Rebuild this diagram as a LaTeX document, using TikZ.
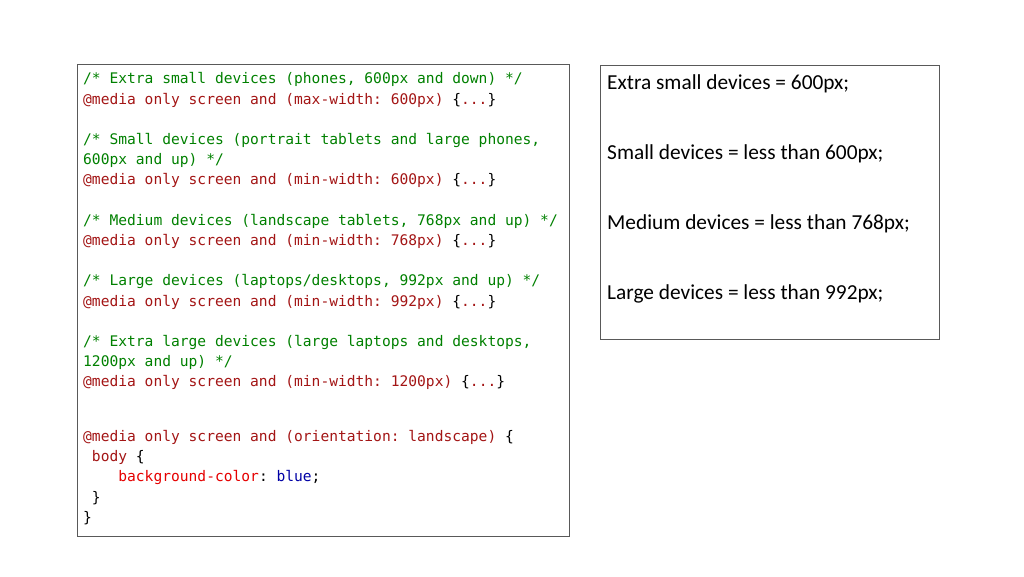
\documentclass[tikz,border=0pt]{standalone}
\usepackage{fontspec}
\setmainfont{Carlito}
\newfontfamily\codefont{DejaVu Sans Mono}
\usetikzlibrary{positioning}

\definecolor{cmtgreen}{RGB}{0,128,0}
\definecolor{ruleclr}{RGB}{163,21,21}
\definecolor{propclr}{RGB}{229,0,0}
\definecolor{valclr}{RGB}{0,0,165}

\newcommand{\cmt}[1]{\textcolor{cmtgreen}{#1}}
\newcommand{\rul}[1]{\textcolor{ruleclr}{#1}}
\newcommand{\prop}[1]{\textcolor{propclr}{#1}}
\newcommand{\val}[1]{\textcolor{valclr}{#1}}
\newcommand{\blk}{\{\rul{...}\}}

\begin{document}
\frenchspacing
\begin{tikzpicture}[x=1pt, y=-1pt]
        \tikzset{
            panel/.style={draw=black!65, line width=0.8pt, inner sep=0pt, anchor=north west},
            code/.style={inner sep=0pt, anchor=north west, align=left,
                font=\codefont\fontsize{14.6}{20.2}\selectfont},
            note/.style={inner sep=0pt, anchor=base west, font=\fontsize{21.35}{25}\selectfont}
        }
        \useasboundingbox (0,0) rectangle (1024,576);

        % the two frames
        \node[panel, minimum width=492pt, minimum height=472pt] (codebox) at (77,63.5) {};
        \node[panel, minimum width=338.5pt, minimum height=274pt] (notebox) at (600,64.5) {};

        % css listing
        \node[code] (css) at (83,72.5) {%
\cmt{/* Extra small devices (phones, 600px and down) */}\\
\rul{@media only screen and (max-width: 600px)} \blk\\
\\
\cmt{/* Small devices (portrait tablets and large phones,}\\
\cmt{600px and up) */}\\
\rul{@media only screen and (min-width: 600px)} \blk\\
\\
\cmt{/* Medium devices (landscape tablets, 768px and up) */}\\
\rul{@media only screen and (min-width: 768px)} \blk\\
\\
\cmt{/* Large devices (laptops/desktops, 992px and up) */}\\
\rul{@media only screen and (min-width: 992px)} \blk\\
\\
\cmt{/* Extra large devices (large laptops and desktops,}\\
\cmt{1200px and up) */}\\
\rul{@media only screen and (min-width: 1200px)} \blk\\
\\[14.3pt]
\rul{@media only screen and (orientation: landscape)} \{\\
\hphantom{x}\rul{body} \{\\
\hphantom{xxxx}\prop{background-color}: \val{blue};\\
\hphantom{x}\}\\
\}};

        % summary
        \node[note] (xs) at (607,89.3) {Extra small devices = 600px;};
        \node[note] (sm) at (607,159.3) {Small devices = less than 600px;};
        \node[note] (md) at (607,229.3) {Medium devices = less than 768px;};
        \node[note] (lg) at (607,299.3) {Large devices = less than 992px;};
\end{tikzpicture}
\end{document}
